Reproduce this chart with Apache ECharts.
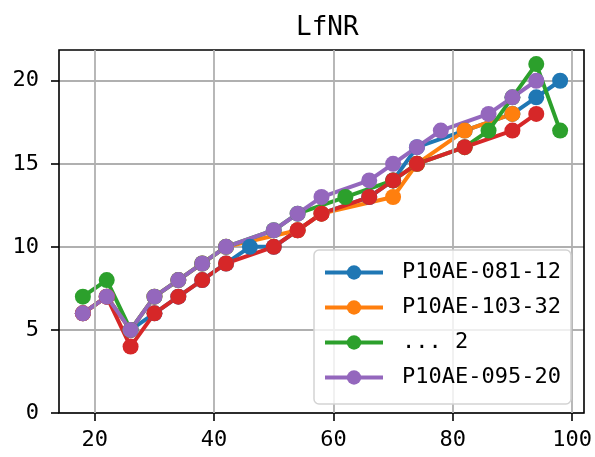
<!DOCTYPE html>
<html>
<head>
<meta charset="utf-8">
<script src="https://cdn.jsdelivr.net/npm/echarts@6/dist/echarts.min.js"></script>
<style>html,body{margin:0;padding:0;background:#fff}#c{width:595px;height:457px}</style>
</head>
<body>
<div id="c"></div>
<script>
// ---- data ----
const titleText = 'LfNR';
const xTicks = [20, 40, 60, 80, 100];
const yTicks = [0, 5, 10, 15, 20];

const blueName = 'P10AE-081-12';
const blueX = [18, 22, 26, 30, 34, 38, 42, 46, 50, 54, 58, 66, 70, 74, 82, 90, 94, 98];
const blueY = [6, 7, 5, 6, 7, 8, 9, 10, 10, 11, 12, 13, 14, 16, 17, 18, 19, 20];

const orangeName = 'P10AE-103-32';
const orangeX = [18, 22, 26, 30, 34, 38, 42, 54, 58, 70, 74, 82, 90];
const orangeY = [6, 7, 5, 7, 8, 9, 10, 11, 12, 13, 15, 17, 18];

const greenName = '... 2';
const greenX = [18, 22, 26, 30, 34, 38, 42, 50, 54, 62, 70, 74, 82, 86, 90, 94, 98];
const greenY = [7, 8, 5, 7, 8, 9, 10, 11, 12, 13, 14, 15, 16, 17, 19, 21, 17];

const redName = 'red-unlabelled';
const redX = [18, 22, 26, 30, 34, 38, 42, 50, 54, 58, 66, 70, 74, 82, 90, 94];
const redY = [6, 7, 4, 6, 7, 8, 9, 10, 11, 12, 13, 14, 15, 16, 17, 18];

const purpleName = 'P10AE-095-20';
const purpleX = [18, 22, 26, 30, 34, 38, 42, 50, 54, 58, 66, 70, 74, 78, 86, 90, 94];
const purpleY = [6, 7, 5, 7, 8, 9, 10, 11, 12, 13, 14, 15, 16, 17, 18, 19, 20];

const legendNames = [blueName, orangeName, greenName, purpleName];

// ---- chart ----
const FONT = 'DejaVu Sans Mono';
const LW = 4;
const pairs = (xs, ys) => xs.map((x, i) => [x, ys[i]]);
const mk = (name, xs, ys, color) => ({
  name, type: 'line', data: pairs(xs, ys),
  symbol: 'circle', symbolSize: 16, showAllSymbol: true,
  color: color,
  lineStyle: { width: LW, color: color },
  itemStyle: { color: color },
  z: 3
});

const chart = echarts.init(document.getElementById('c'), null, { renderer: 'canvas' });
chart.setOption({
  animation: false,
  backgroundColor: '#fff',
  title: {
    text: titleText, left: 291, top: 10,
    textStyle: { fontFamily: FONT, fontSize: 26, fontWeight: 'normal', color: '#000' }
  },
  grid: { left: 59, right: 11, top: 50, bottom: 44, show: true, borderColor: '#000', borderWidth: 1.6, backgroundColor: 'transparent', z: 5 },
  xAxis: {
    type: 'value', min: 14, max: 102,
    axisLine: { show: false },
    axisTick: { show: true, length: 8, lineStyle: { color: '#000', width: 1.6 }, customValues: xTicks },
    axisLabel: { customValues: xTicks, margin: 16, fontFamily: FONT, fontSize: 22, color: '#000' },
    splitLine: { show: false }
  },
  yAxis: {
    type: 'value', min: 0, max: 21.85, interval: 5,
    axisLine: { show: false },
    axisTick: { show: true, length: 8, lineStyle: { color: '#000', width: 1.6 }, customValues: yTicks },
    axisLabel: { customValues: yTicks, margin: 20, fontFamily: FONT, fontSize: 22, color: '#000' },
    splitLine: { show: true, lineStyle: { color: '#b0b0b0', width: 1.8 } }
  },
  legend: {
    data: legendNames, orient: 'vertical', left: 314, top: 250,
    padding: [10, 10, 14, 9], itemWidth: 58, itemHeight: 18, itemGap: 10,
    backgroundColor: 'rgba(255,255,255,0.8)', borderColor: '#d3d3d3', borderWidth: 1.5, borderRadius: 5,
    lineStyle: { width: LW },
    textStyle: { fontFamily: FONT, fontSize: 22, color: '#000', lineHeight: 25, padding: [0, 0, 0, 14] },
    selectedMode: false, z: 10
  },
  series: [
    {
      name: 'grid-x', type: 'line', data: [], z: 1, silent: true,
      markLine: {
        silent: true, symbol: 'none', label: { show: false },
        lineStyle: { color: '#b0b0b0', width: 1.8, type: 'solid' },
        data: xTicks.map(v => ({ xAxis: v }))
      }
    },
    mk(blueName, blueX, blueY, '#1f77b4'),
    mk(orangeName, orangeX, orangeY, '#ff7f0e'),
    mk(greenName, greenX, greenY, '#2ca02c'),
    mk(redName, redX, redY, '#d62728'),
    mk(purpleName, purpleX, purpleY, '#9467bd')
  ]
});
</script>
</body>
</html>
